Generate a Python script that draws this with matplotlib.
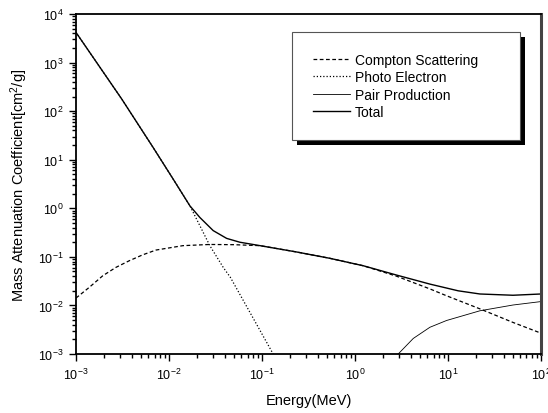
import matplotlib
matplotlib.use("Agg")
import matplotlib.pyplot as plt
from matplotlib.patches import Rectangle
from matplotlib.ticker import LogLocator, NullFormatter

plt.rcParams.update({
    "font.family": ["Liberation Sans", "DejaVu Sans"],
    "mathtext.fontset": "custom",
    "mathtext.rm": "Liberation Sans",
    "mathtext.it": "Liberation Sans",
    "axes.unicode_minus": False,
})

# ---- data (energy in MeV, coefficient in cm^2/g) ----
compton_e = [0.001, 0.00139, 0.00194, 0.00269, 0.00374, 0.00521, 0.00724, 0.0141,
             0.0275, 0.050, 0.0955, 0.236, 0.538, 1.23, 2.8, 6.4, 9.68, 22.1,
             50.1, 100.0]
compton_mu = [0.0142, 0.0236, 0.0408, 0.0608, 0.0832, 0.110, 0.138, 0.170,
              0.180, 0.178, 0.170, 0.126, 0.0933, 0.0656, 0.040, 0.0219, 0.0158,
              0.0085, 0.00447, 0.00269]

photo_e = [0.001, 0.0031, 0.00676, 0.0111, 0.0168, 0.0215, 0.0275, 0.0384,
           0.0457, 0.132]
photo_mu = [4170, 178, 17.8, 3.98, 1.12, 0.437, 0.170, 0.0603, 0.038, 0.001]

pair_e = [2.92, 4.24, 6.40, 9.68, 22.1, 50.1, 100.0]
pair_mu = [0.001, 0.00209, 0.00355, 0.0049, 0.00776, 0.0102, 0.0120]

total_e = [0.001, 0.0031, 0.00676, 0.0111, 0.0168, 0.0215, 0.0299, 0.0417,
           0.0579, 0.0955, 0.236, 0.538, 1.23, 2.8, 6.4, 12.9, 22.1, 50.1, 100.0]
total_mu = [4170, 178, 17.8, 3.98, 1.12, 0.646, 0.347, 0.240,
            0.200, 0.170, 0.126, 0.0933, 0.0656, 0.0422, 0.0275, 0.020, 0.0172,
            0.0162, 0.0172]

fig = plt.figure(figsize=(5.48, 4.14), dpi=100)
ax = fig.add_axes([0.1387, 0.1425, 0.8483, 0.8213])

ax.plot(compton_e, compton_mu, color="black", lw=0.9, ls=(0, (3, 2)),
        label="Compton Scattering")
ax.plot(photo_e, photo_mu, color="black", lw=0.9, ls=(0, (1, 1.6)),
        label="Photo Electron")
ax.plot(pair_e, pair_mu, color="black", lw=0.6, label="Pair Production")
ax.plot(total_e, total_mu, color="black", lw=1.0, label="Total")

ax.set_xscale("log")
ax.set_yscale("log")
ax.set_xlim(1e-3, 1e2)
ax.set_ylim(1e-3, 1e4)

ax.xaxis.set_major_locator(LogLocator(base=10, numticks=20))
ax.xaxis.set_minor_locator(LogLocator(base=10, subs=range(2, 10), numticks=20))
ax.yaxis.set_major_locator(LogLocator(base=10, numticks=20))
ax.yaxis.set_minor_locator(LogLocator(base=10, subs=range(2, 10), numticks=20))
ax.xaxis.set_minor_formatter(NullFormatter())
ax.yaxis.set_minor_formatter(NullFormatter())

ax.tick_params(which="both", direction="out", top=False, right=False,
               labelsize=9, width=1.0)
ax.tick_params(which="major", length=5, pad=4)
ax.tick_params(which="minor", length=3)

for side in ("left", "bottom", "top"):
    ax.spines[side].set_linewidth(1.3)
ax.spines["right"].set_linewidth(2.2)
ax.spines["right"].set_color("#444444")

ax.set_xlabel("Energy(MeV)", fontsize=10.5, labelpad=8)
ax.set_ylabel("Mass Attenuation Coefficient[cm$^2$/g]", fontsize=10.5, labelpad=6)

leg = ax.legend(loc="upper left", bbox_to_anchor=(0.4645, 0.641, 0.49, 0.306),
                mode="expand", frameon=True, fancybox=False,
                fontsize=10, borderpad=1.5, labelspacing=0.25,
                handlelength=2.7, handletextpad=0.35, borderaxespad=0)
leg.get_frame().set_edgecolor("#555555")
leg.get_frame().set_linewidth(0.8)
leg.get_frame().set_alpha(1.0)

# solid black drop shadow, offset a few pixels right/down
fig.canvas.draw()
bb = leg.get_frame().get_window_extent().transformed(ax.transAxes.inverted())
axw, axh = ax.bbox.width, ax.bbox.height
shadow = Rectangle((bb.x0 + 5 / axw, bb.y0 - 5 / axh), bb.width, bb.height,
                   transform=ax.transAxes, facecolor="black", edgecolor="none",
                   zorder=leg.get_zorder() - 0.1, clip_on=False)
ax.add_patch(shadow)

fig.savefig("out.png", dpi=100)
